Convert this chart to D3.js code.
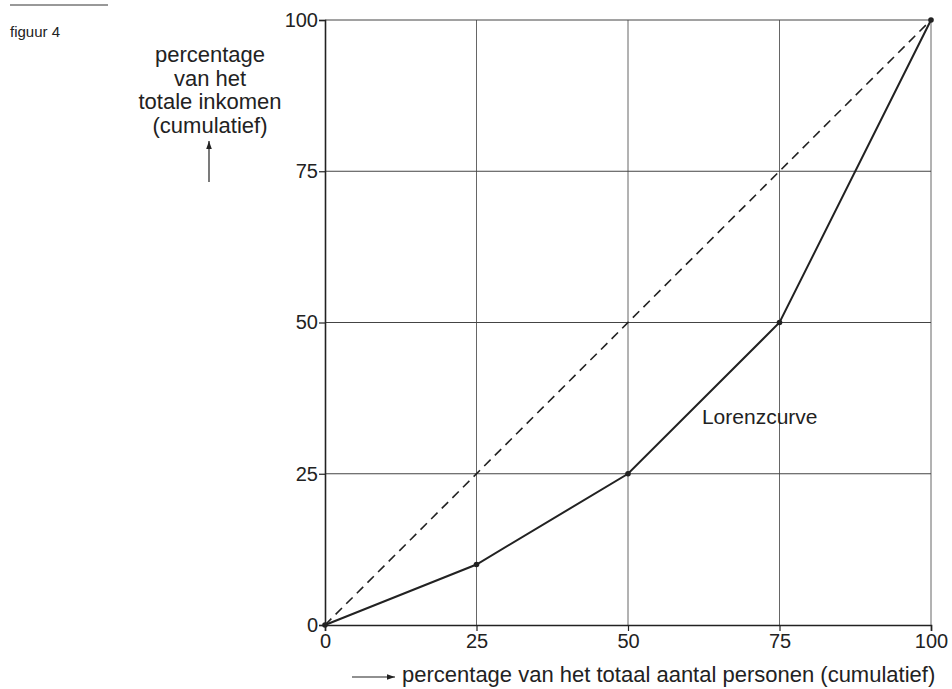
<!DOCTYPE html>
<html lang="nl">
<head>
<meta charset="UTF-8">
<title>figuur 4</title>
<script src="https://cdn.jsdelivr.net/npm/d3@7/dist/d3.min.js"></script>
<style>
    body { margin: 0; background: #fff; }
    text { font-family: "Liberation Sans", Arial, sans-serif; fill: #222; }
</style>
</head>
<body>
<svg id="chart" width="952" height="689"></svg>
<script>
const ticks = [0, 25, 50, 75, 100]
const personen = [0, 25, 50, 75, 100]
const inkomen = [0, 10, 25, 50, 100]
const gelijk = [0, 100]
const yLabel = ['percentage', 'van het', 'totale inkomen', '(cumulatief)']
const xLabel = 'percentage van het totaal aantal personen (cumulatief)'

const svg = d3.select('#chart')
const margin = { left: 325, top: 20, right: 21, bottom: 64 }
const width = 952, height = 689
const innerW = width - margin.left - margin.right
const innerH = height - margin.top - margin.bottom

const x = d3.scaleLinear().domain([0, 100]).range([0, innerW])
const y = d3.scaleLinear().domain([0, 100]).range([innerH, 0])

svg.append('defs').append('marker')
    .attr('id', 'arrow').attr('viewBox', '0 0 10 10')
    .attr('refX', 10).attr('refY', 5)
    .attr('markerWidth', 9).attr('markerHeight', 8)
    .attr('markerUnits', 'userSpaceOnUse')
    .attr('orient', 'auto')
    .append('path').attr('d', 'M0,1.5 L10,5 L0,8.5 Z').attr('fill', '#222')

// header
svg.append('line').attr('x1', 10).attr('x2', 108).attr('y1', 5).attr('y2', 5)
    .attr('stroke', '#333').attr('stroke-width', 1)
svg.append('text').attr('x', 10).attr('y', 37).attr('font-size', 15).text('figuur 4')

const g = svg.append('g').attr('transform', `translate(${margin.left},${margin.top})`)

// grid
g.append('g').selectAll('line').data(ticks.slice(1)).enter().append('line')
    .attr('x1', d => x(d)).attr('x2', d => x(d))
    .attr('y1', 0).attr('y2', innerH)
    .attr('stroke', '#666').attr('stroke-width', 1)
g.append('g').selectAll('line').data(ticks.slice(1)).enter().append('line')
    .attr('x1', 0).attr('x2', innerW)
    .attr('y1', d => y(d)).attr('y2', d => y(d))
    .attr('stroke', '#444').attr('stroke-width', 1)

// axes
const yAxis = g.append('g').call(d3.axisLeft(y).tickValues(ticks).tickSize(6).tickPadding(1))
const xAxis = g.append('g').attr('transform', `translate(0,${innerH})`)
    .call(d3.axisBottom(x).tickValues(ticks).tickSize(6))
;[yAxis, xAxis].forEach(a => {
    a.select('.domain').attr('stroke', '#222').attr('stroke-width', 1.6)
    a.selectAll('.tick line').attr('stroke', '#222').attr('stroke-width', 1.2)
    a.selectAll('text').attr('font-size', 20).attr('fill', '#222')
        .attr('font-family', '"Liberation Sans", Arial, sans-serif')
})
xAxis.selectAll('text').attr('y', 23).attr('dy', null)

// diagonal
const line = d3.line().x(d => x(d[0])).y(d => y(d[1]))
g.append('path').datum(gelijk.map(v => [v, v]))
    .attr('d', line).attr('fill', 'none')
    .attr('stroke', '#222').attr('stroke-width', 1.6)
    .attr('stroke-dasharray', '9,6')

// lorenz curve
const pts = personen.map((p, i) => [p, inkomen[i]])
g.append('path').datum(pts).attr('d', line).attr('fill', 'none')
    .attr('stroke', '#222').attr('stroke-width', 2)
g.selectAll('circle').data(pts).enter().append('circle')
    .attr('cx', d => x(d[0])).attr('cy', d => y(d[1])).attr('r', 2.8)
    .attr('fill', '#222')

g.append('text').attr('x', x(62.2)).attr('y', y(33.2)).attr('font-size', 21)
    .text('Lorenzcurve')

// y label
const yl = svg.append('text').attr('text-anchor', 'middle').attr('font-size', 22)
yl.selectAll('tspan').data(yLabel).enter().append('tspan')
    .attr('x', 210).attr('y', (d, i) => 62 + i * 23.5).text(d => d)
svg.append('line').attr('x1', 209).attr('x2', 209).attr('y1', 182).attr('y2', 141)
    .attr('stroke', '#222').attr('stroke-width', 1.2).attr('marker-end', 'url(#arrow)')

// x label
svg.append('line').attr('x1', 352).attr('x2', 395).attr('y1', 677).attr('y2', 677)
    .attr('stroke', '#222').attr('stroke-width', 1.2).attr('marker-end', 'url(#arrow)')
svg.append('text').attr('x', 402).attr('y', 682).attr('font-size', 22).text(xLabel)
</script>
</body>
</html>
